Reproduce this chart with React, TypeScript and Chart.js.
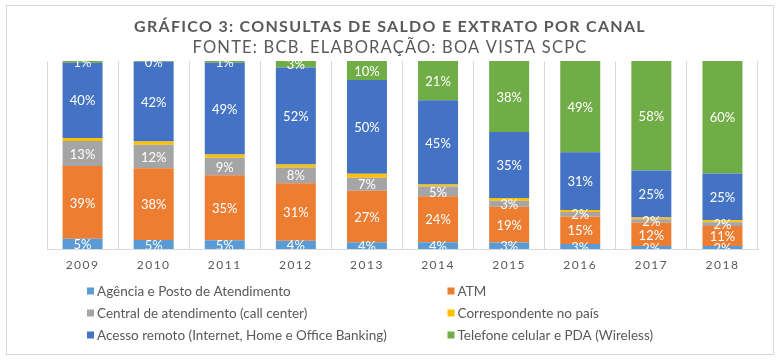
import React, { useEffect, useRef } from "react";
import { Chart, registerables } from "chart.js";

Chart.register(...registerables);

const categories = ["2009", "2010", "2011", "2012", "2013", "2014", "2015", "2016", "2017", "2018"];
const seriesNames = [
  "Agência e Posto de Atendimento",
  "ATM",
  "Central de atendimento (call center)",
  "Correspondente no país",
  "Acesso remoto (Internet, Home e Office Banking)",
  "Telefone celular e PDA (Wireless)",
];
const agencia = [5.4, 4.8, 4.6, 4.4, 3.6, 3.6, 3.4, 2.6, 1.6, 1.6];
const atm = [38.8, 38.2, 34.6, 30.6, 27.4, 24.4, 19.1, 14.7, 12.4, 10.6];
const callCenter = [13.3, 12.4, 9.4, 8.4, 6.9, 5.2, 3.2, 2.4, 1.8, 2.0];
const correspondente = [1.6, 1.8, 1.6, 1.6, 2.1, 1.1, 1.4, 1.1, 0.9, 1.1];
const acessoRemoto = [40.0, 42.4, 48.9, 51.6, 49.9, 44.8, 35.1, 30.6, 25.0, 24.8];
const celular = [0.9, 0.4, 0.9, 3.4, 10.1, 20.9, 37.8, 48.6, 58.3, 59.9];
const colors = ["#5B9BD5", "#ED7D31", "#A5A5A5", "#FFC000", "#4472C4", "#70AD47"];
const unlabeledSeries = [3];
const titleText = "GRÁFICO 3: CONSULTAS DE SALDO E EXTRATO POR CANAL";
const subtitleText = "FONTE: BCB. ELABORAÇÃO: BOA VISTA SCPC";

const FONT = "Lato, 'Noto Sans', sans-serif";
const TEXT = "#595959";

const decorPlugin = {
  id: "decor",
  beforeDraw(chart: any) {
    const ctx = chart.ctx;
    ctx.save();
    ctx.fillStyle = "#ffffff";
    ctx.fillRect(0, 0, chart.width, chart.height);
    ctx.strokeStyle = "#D9D9D9";
    ctx.lineWidth = 1;
    ctx.strokeRect(6.5, 5.5, 767, 349);
    ctx.restore();
    ctx.letterSpacing = "1.5px";
  },
  beforeDatasetsDraw(chart: any) {
    chart.ctx.letterSpacing = "0px";
  },
  afterDatasetsDraw(chart: any) {
    const ctx = chart.ctx;
    const area = chart.chartArea;
    ctx.save();
    ctx.beginPath();
    ctx.rect(area.left, area.top, area.right - area.left, area.bottom - area.top);
    ctx.clip();
    ctx.fillStyle = "#ffffff";
    ctx.font = `13px ${FONT}`;
    ctx.textAlign = "center";
    ctx.textBaseline = "middle";
    chart.data.datasets.forEach((ds: any, i: number) => {
      if (unlabeledSeries.includes(i)) return;
      const meta = chart.getDatasetMeta(i);
      meta.data.forEach((el: any, j: number) => {
        const v = ds.data[j];
        const y = (el.y + el.base) / 2;
        ctx.fillText(`${Math.round(v)}%`, el.x, y + 1);
      });
    });
    ctx.restore();
  },
  afterDraw(chart: any) {
    const ctx = chart.ctx;
    ctx.save();
    ctx.fillStyle = TEXT;
    ctx.textAlign = "center";
    ctx.textBaseline = "middle";
    ctx.letterSpacing = "1.3px";
    ctx.font = `bold 16px ${FONT}`;
    ctx.fillText(titleText, 390, 27);
    ctx.letterSpacing = "1.2px";
    ctx.font = `16.5px ${FONT}`;
    ctx.fillText(subtitleText, 390, 48);
    ctx.letterSpacing = "0px";
    ctx.textAlign = "left";
    ctx.font = `13.5px ${FONT}`;
    chart.data.datasets.forEach((ds: any, i: number) => {
      const col = i % 2;
      const row = Math.floor(i / 2);
      const bx = col === 0 ? 87 : 447.5;
      const cy = 291 + row * 22;
      ctx.fillStyle = ds.backgroundColor;
      ctx.fillRect(bx, cy - 3.5, 7, 7);
      ctx.fillStyle = TEXT;
      ctx.fillText(ds.label, bx + 10, cy + 1);
    });
    ctx.restore();
  },
};

export default function App() {
  const ref = useRef<HTMLCanvasElement | null>(null);
  useEffect(() => {
    document.body.style.margin = "0";
    const values = [agencia, atm, callCenter, correspondente, acessoRemoto, celular];
    const chart = new Chart(ref.current as HTMLCanvasElement, {
      type: "bar",
      data: {
        labels: categories,
        datasets: values.map((d, i) => ({
          label: seriesNames[i],
          data: d,
          backgroundColor: colors[i],
          borderWidth: 0,
          barPercentage: 0.9,
          categoryPercentage: 0.625,
        })),
      },
      options: {
        animation: false,
        responsive: false,
        maintainAspectRatio: false,
        layout: { padding: { top: 61, left: 47, right: 25, bottom: 0 } },
        plugins: {
          legend: { display: false },
          title: { display: false },
          tooltip: { enabled: false },
        },
        scales: {
          x: {
            stacked: true,
            grid: { color: "#D9D9D9", drawTicks: false, offset: true },
            border: { color: "#D9D9D9" },
            ticks: {
              color: TEXT,
              font: { size: 12, family: FONT },
              padding: 9,
              maxRotation: 0,
              autoSkip: false,
            },
            afterFit(scale: any) {
              scale.height = 111;
            },
          },
          y: {
            stacked: true,
            display: false,
            min: 0,
            max: 100,
          },
        },
      },
      plugins: [decorPlugin],
    });
    return () => chart.destroy();
  }, []);
  return <canvas ref={ref} width={783} height={360} style={{ display: "block" }} />;
}
